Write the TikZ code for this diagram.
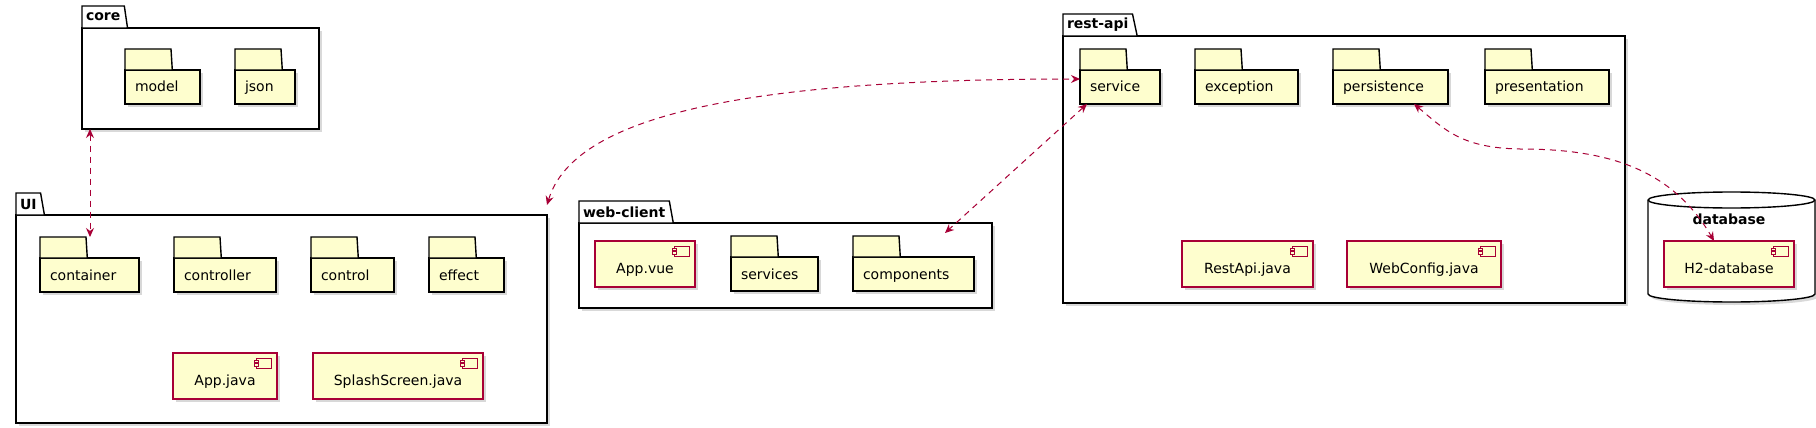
\documentclass[tikz,border=0pt]{standalone}
\usepackage{fontspec}
\setmainfont{DejaVu Sans}
\usetikzlibrary{arrows.meta, calc, shapes.geometric, shadows}
\definecolor{umlred}{RGB}{168,0,54}
\definecolor{umlfill}{RGB}{254,254,206}

\begin{document}
\begin{tikzpicture}[
    x=1pt, y=-1pt,
    every node/.style={font=\fontsize{14}{17}\selectfont},
    boxshadow/.style={drop shadow={shadow xshift=3pt, shadow yshift=-3pt, opacity=0.3}},
    pkg/.style={draw, line width=1.4pt, fill=white, anchor=north west, outer sep=0pt, boxshadow},
    pkgtab/.style={trapezium, trapezium left angle=90, trapezium right angle=75, trapezium stretches=true, draw,
        line width=1.4pt, fill=white, anchor=bottom left corner, outer sep=0pt, inner xsep=4pt, inner ysep=2pt,
        minimum height=22pt, font=\fontsize{14}{17}\selectfont\bfseries},
    foldertab/.style={trapezium, trapezium left angle=90, trapezium right angle=72, trapezium stretches=true, draw,
        line width=1.4pt, fill=umlfill, anchor=bottom left corner, outer sep=0pt, inner xsep=0pt, inner ysep=2pt,
        minimum height=21pt},
    folder/.style={draw, line width=1.4pt, fill=umlfill, anchor=north west, outer sep=0pt, align=left,
        inner xsep=10pt, inner ysep=0pt, minimum height=34pt, text height=11pt, text depth=1pt, boxshadow,
        label={[foldertab]north west:\hspace*{46pt}}},
    comp/.style={draw=umlred, line width=1.4pt, fill=umlfill, anchor=north west, outer sep=0pt,
        minimum height=46pt, text height=22pt, text depth=3pt, boxshadow,
        path picture={
            \coordinate (ic) at ([xshift=-6pt, yshift=-5pt]path picture bounding box.north east);
            \draw[umlred, line width=1pt, fill=umlfill] (ic) rectangle ++(-15pt,-10pt);
            \draw[umlred, line width=1pt, fill=umlfill] ([xshift=-17pt, yshift=-2pt]ic) rectangle ++(4pt,-2.5pt);
            \draw[umlred, line width=1pt, fill=umlfill] ([xshift=-17pt, yshift=-5.5pt]ic) rectangle ++(4pt,-2.5pt);
        }},
    conn/.style={umlred, line width=1pt, dash pattern=on 6pt off 5pt, <->},
    >={Stealth[length=9pt, width=8pt, inset=3pt]}
]
  \useasboundingbox (0,0) rectangle (1816,428);

  % packages
  \node[pkg, minimum width=237pt, minimum height=101pt, label={[pkgtab]north west:core}] (core) at (82,28) {};
  \node[pkg, minimum width=531pt, minimum height=208pt, label={[pkgtab]north west:UI}] (UI) at (16,215) {};
  \node[pkg, minimum width=413pt, minimum height=85pt, label={[pkgtab]north west:web-client}] (webclient) at (579,223) {};
  \node[pkg, minimum width=562pt, minimum height=267pt, label={[pkgtab]north west:rest-api}] (restapi) at (1063,36) {};

  % database
  \draw[line width=1.4pt, fill=white, boxshadow] (1648,200) -- (1648,294)
    arc[start angle=180, end angle=360, x radius=83.5pt, y radius=8pt] -- (1815,200)
    arc[start angle=0, end angle=180, x radius=83.5pt, y radius=8pt] -- cycle;
  \draw[line width=1.4pt] (1648,200) arc[start angle=180, end angle=360, x radius=83.5pt, y radius=8pt];
  \node[font=\fontsize{14}{17}\selectfont\bfseries] (database) at (1729,219) {database};

  % core
  \node[folder, text width=55pt] (model) at (125,70) {model};
  \node[folder, text width=40pt] (json) at (235,70) {json};

  % UI
  \node[folder, text width=79pt] (container) at (40,258) {container};
  \node[folder, text width=82pt] (controller) at (174,258) {controller};
  \node[folder, text width=63pt] (control) at (311,258) {control};
  \node[folder, text width=55pt] (effect) at (429,258) {effect};
  \node[comp, minimum width=104pt] (appjava) at (173,353) {App.java};
  \node[comp, minimum width=170pt] (splash) at (313,353) {SplashScreen.java};

  % web-client
  \node[comp, minimum width=100pt] (appvue) at (595,241) {App.vue};
  \node[folder, text width=67pt] (services) at (731,257) {services};
  \node[folder, text width=101pt] (components) at (853,257) {components};

  % rest-api
  \node[folder, text width=60pt] (service) at (1080,70) {service};
  \node[folder, text width=83pt] (exception) at (1195,70) {exception};
  \node[folder, text width=95pt] (persistence) at (1333,70) {persistence};
  \node[folder, text width=104pt] (presentation) at (1485,70) {presentation};
  \node[comp, minimum width=131pt] (restapijava) at (1182,241) {RestApi.java};
  \node[comp, minimum width=154pt] (webconfig) at (1347,241) {WebConfig.java};

  \node[comp, minimum width=130pt] (h2) at (1664,241) {H2-database};

  % dependencies
  \draw[conn] ([xshift=8pt]core.south west) -- ([xshift=50pt, yshift=21pt]container.north west);
  \draw[conn] ([yshift=10pt]UI.north east) .. controls (575,112) and (760,79) .. ([yshift=8pt]service.west);
  \draw[conn] ([xshift=7pt]service.south west) -- ([xshift=92pt, yshift=24pt]components.north west);
  \draw[conn] ([xshift=81pt]persistence.south west) .. controls (1445,130) and (1462,148) .. (1520,149)
    .. controls (1600,149) and (1670,165) .. ([xshift=50pt]h2.north west);
\end{tikzpicture}
\end{document}
